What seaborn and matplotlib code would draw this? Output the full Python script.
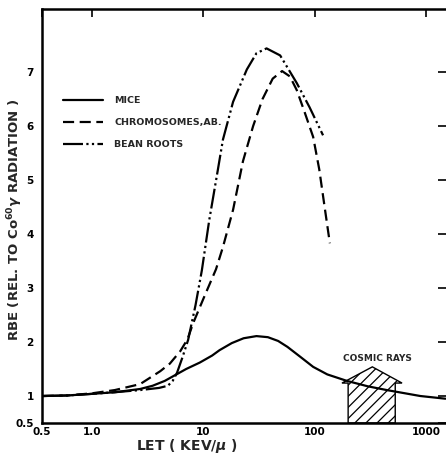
import pandas as pd
import matplotlib.pyplot as plt
import seaborn as sns
from matplotlib.patches import Polygon
from matplotlib.ticker import NullLocator

# ---- data (LET in keV/micron, RBE) ----
mice_let = [0.36, 0.6, 1.0, 1.6, 2.7, 3.5, 4.5, 5.5, 7.0, 9.3, 12, 14, 18, 23, 30,
            38, 47, 57, 75, 97, 130, 195, 300, 445, 650, 890, 1500]
mice_rbe = [1.0, 1.01, 1.04, 1.07, 1.13, 1.19, 1.28, 1.38, 1.5, 1.62, 1.75, 1.85, 1.98,
            2.07, 2.11, 2.09, 2.02, 1.91, 1.72, 1.54, 1.40, 1.28, 1.18, 1.11, 1.05, 1.0, 0.95]

chrom_let = [0.36, 0.6, 1.0, 1.6, 2.7, 4.1, 5.0, 6.2, 7.2, 8.1, 10, 13, 15, 18.5, 22.7,
             28, 34, 42, 51, 60, 69, 80, 97, 110, 123, 137]
chrom_rbe = [1.0, 1.01, 1.05, 1.11, 1.22, 1.46, 1.6, 1.83, 2.05, 2.35, 2.8, 3.35, 3.76,
             4.45, 5.35, 6.0, 6.5, 6.88, 7.02, 6.92, 6.67, 6.3, 5.8, 5.2, 4.5, 3.83]

bean_let = [0.36, 0.6, 1.0, 1.6, 2.7, 4.0, 4.8, 5.3, 5.8, 6.5, 7.3, 8.5, 9.7, 11.3,
            13.5, 15, 18.5, 24.6, 30, 37, 49, 69, 90, 119]
bean_rbe = [1.0, 1.01, 1.04, 1.07, 1.11, 1.15, 1.19, 1.28, 1.43, 1.72, 2.04, 2.68, 3.33,
            4.26, 5.19, 5.75, 6.45, 7.05, 7.35, 7.44, 7.31, 6.8, 6.35, 5.83]

series_names = ['MICE', 'CHROMOSOMES,AB.', 'BEAN ROOTS']

# cosmic ray LET band and arrow head
cosmic_band = [200, 530]
cosmic_head = [176, 330, 610]
cosmic_rbe = [0.5, 1.24, 1.54]

x_ticks = [1, 10, 100, 1000]
x_ticklabels = ['1.0', '10', '100', '1000']
y_ticks = [0.5, 1, 2, 3, 4, 5, 6, 7]
y_ticklabels = ['0.5', '1', '2', '3', '4', '5', '6', '7']
x_lim = (0.355, 1515)
y_lim = (0.5, 8.17)

df = pd.concat([
    pd.DataFrame({'LET': mice_let, 'RBE': mice_rbe, 'series': series_names[0]}),
    pd.DataFrame({'LET': chrom_let, 'RBE': chrom_rbe, 'series': series_names[1]}),
    pd.DataFrame({'LET': bean_let, 'RBE': bean_rbe, 'series': series_names[2]}),
])

sns.set_style('white')
plt.rcParams['font.family'] = ['DejaVu Sans']
plt.rcParams['font.weight'] = 'bold'
plt.rcParams['hatch.linewidth'] = 0.9

fig = plt.figure(figsize=(4.46, 4.54), dpi=100)
ax = fig.add_axes([42 / 446, 31 / 454, 404 / 446, 414 / 454])

sns.lineplot(data=df, x='LET', y='RBE', style='series', style_order=series_names,
             dashes={'MICE': '', 'CHROMOSOMES,AB.': (5, 2.5),
                     'BEAN ROOTS': (9, 1.5, 1, 1.5, 1, 1.5)},
             color='black', linewidth=1.6, errorbar=None, estimator=None,
             legend=False, ax=ax, zorder=3)

ax.set_xscale('log')
ax.set_xlim(*x_lim)
ax.set_ylim(*y_lim)

# hatched "cosmic rays" arrow
lo, hi = cosmic_band
verts = [(lo, cosmic_rbe[0]), (lo, cosmic_rbe[1]), (cosmic_head[0], cosmic_rbe[1]),
         (cosmic_head[1], cosmic_rbe[2]), (cosmic_head[2], cosmic_rbe[1]),
         (hi, cosmic_rbe[1]), (hi, cosmic_rbe[0])]
ax.add_patch(Polygon(verts, closed=True, facecolor='white', edgecolor='black',
                     hatch='///', linewidth=1.0, zorder=2))
ax.text(cosmic_head[1] * 1.12, 1.69, 'COSMIC RAYS', ha='center', va='center',
        fontsize=6.5, fontweight='bold')

# legend
ax.legend(handles=ax.lines[:3], labels=series_names, loc='upper left',
          bbox_to_anchor=(0.052, 0.789), frameon=False, fontsize=6.8,
          handlelength=4.2, handletextpad=1.25, labelspacing=1.35,
          borderpad=0, borderaxespad=0)

# ticks
ax.xaxis.set_minor_locator(NullLocator())
ax.set_xticks([x_lim[0]] + x_ticks)
ax.set_xticklabels(['0.5'] + x_ticklabels)
ax.set_yticks(y_ticks)
ax.set_yticklabels(y_ticklabels)
ax.tick_params(direction='in', length=6, width=1.2, top=True, right=True,
               labelsize=7.5, colors='black')
ax.tick_params(axis='x', pad=3)
ax.tick_params(axis='y', pad=6)
for lab in ax.get_xticklabels() + ax.get_yticklabels():
    lab.set_fontweight('bold')

for side in ['left', 'bottom', 'top']:
    ax.spines[side].set_linewidth(1.8)
    ax.spines[side].set_color('black')
ax.spines['right'].set_visible(False)

ax.set_xlabel(r'LET ( KEV/$\mu$ )', fontsize=10, fontweight='bold')
ax.set_ylabel(r'RBE (REL. TO Co$^{\mathbf{60}}$$\gamma$ RADIATION )',
              fontsize=9.5, fontweight='bold')
ax.xaxis.set_label_coords(0.359, -0.035)
ax.yaxis.set_label_coords(-0.042, 0.49)

fig.savefig('out.png', dpi=100)
